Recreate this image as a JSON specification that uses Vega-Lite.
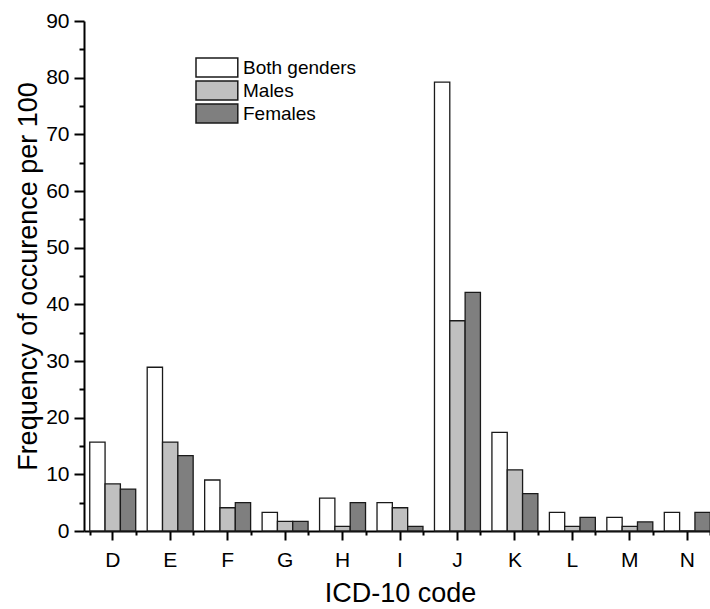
{
  "$schema": "https://vega.github.io/schema/vega-lite/v6.json",
  "autosize": "none",
  "width": 626,
  "height": 510,
  "padding": {"left": 84, "top": 21, "right": 0, "bottom": 78},
  "background": "white",
  "data": {
    "values": [
      {"code": "D", "group": "Both genders", "value": 15.7},
      {"code": "D", "group": "Males", "value": 8.3},
      {"code": "D", "group": "Females", "value": 7.4},
      {"code": "E", "group": "Both genders", "value": 28.9},
      {"code": "E", "group": "Males", "value": 15.7},
      {"code": "E", "group": "Females", "value": 13.3},
      {"code": "F", "group": "Both genders", "value": 9.0},
      {"code": "F", "group": "Males", "value": 4.1},
      {"code": "F", "group": "Females", "value": 5.0},
      {"code": "G", "group": "Both genders", "value": 3.3},
      {"code": "G", "group": "Males", "value": 1.7},
      {"code": "G", "group": "Females", "value": 1.7},
      {"code": "H", "group": "Both genders", "value": 5.8},
      {"code": "H", "group": "Males", "value": 0.8},
      {"code": "H", "group": "Females", "value": 5.0},
      {"code": "I", "group": "Both genders", "value": 5.0},
      {"code": "I", "group": "Males", "value": 4.1},
      {"code": "I", "group": "Females", "value": 0.8},
      {"code": "J", "group": "Both genders", "value": 79.2},
      {"code": "J", "group": "Males", "value": 37.1},
      {"code": "J", "group": "Females", "value": 42.1},
      {"code": "K", "group": "Both genders", "value": 17.4},
      {"code": "K", "group": "Males", "value": 10.8},
      {"code": "K", "group": "Females", "value": 6.6},
      {"code": "L", "group": "Both genders", "value": 3.3},
      {"code": "L", "group": "Males", "value": 0.8},
      {"code": "L", "group": "Females", "value": 2.4},
      {"code": "M", "group": "Both genders", "value": 2.4},
      {"code": "M", "group": "Males", "value": 0.8},
      {"code": "M", "group": "Females", "value": 1.6},
      {"code": "N", "group": "Both genders", "value": 3.3},
      {"code": "N", "group": "Males", "value": 0},
      {"code": "N", "group": "Females", "value": 3.3}
    ]
  },
  "layer": [
    {
      "mark": {"type": "bar", "stroke": "#1a1a1a", "strokeWidth": 1.3},
      "encoding": {
        "x": {
          "field": "code", "type": "nominal",
          "scale": {"paddingInner": 0.2, "paddingOuter": 0.1, "range": [0, 632]},
          "axis": {
            "title": "ICD-10 code", "labelAngle": 0, "tickSize": 9,
            "labelPadding": 9, "titlePadding": 10, "orient": "bottom"
          }
        },
        "xOffset": {
          "field": "group", "type": "nominal",
          "sort": ["Both genders", "Males", "Females"],
          "scale": {"paddingInner": 0, "paddingOuter": 0}
        },
        "y": {
          "field": "value", "type": "quantitative",
          "scale": {"domain": [0, 90], "nice": false},
          "axis": {
            "title": "Frequency of occurence per 100",
            "values": [0, 10, 20, 30, 40, 50, 60, 70, 80, 90],
            "tickSize": 10, "labelPadding": 5, "titlePadding": 3, "orient": "left"
          }
        },
        "fill": {
          "field": "group", "type": "nominal",
          "sort": ["Both genders", "Males", "Females"],
          "scale": {"domain": ["Both genders", "Males", "Females"], "range": ["#ffffff", "#c0c0c0", "#7f7f7f"]},
          "legend": {
            "title": null,
            "orient": "none",
            "legendX": 111,
            "legendY": 36,
            "symbolType": "M-1,-1H3.4V1H-1Z",
            "symbolSize": 361,
            "symbolStrokeColor": "#1a1a1a",
            "symbolStrokeWidth": 1.5,
            "symbolOpacity": 1,
            "labelOffset": 27,
            "labelFontSize": 19,
            "labelFont": "Liberation Sans",
            "labelColor": "#000000",
            "rowPadding": -3,
            "padding": 0
          }
        }
      }
    },
    {
      "mark": {"type": "point", "opacity": 0},
      "encoding": {
        "x": {
          "field": "code", "type": "nominal",
          "axis": {
            "title": null, "labels": false, "domain": false,
            "tickBand": "extent", "tickSize": 4, "orient": "bottom"
          }
        },
        "y": {
          "field": "value", "type": "quantitative",
          "axis": {
            "title": null, "labels": false, "domain": false,
            "values": [5, 15, 25, 35, 45, 55, 65, 75, 85],
            "tickSize": 5, "orient": "left"
          }
        }
      }
    }
  ],
  "resolve": {"axis": {"x": "independent", "y": "independent"}},
  "config": {
    "view": {"stroke": null},
    "axis": {
      "grid": false,
      "domainColor": "#000000",
      "domainWidth": 2,
      "tickColor": "#000000",
      "tickWidth": 2,
      "labelColor": "#000000",
      "labelFont": "Liberation Sans",
      "labelFontSize": 21,
      "titleFont": "Liberation Sans",
      "titleFontSize": 27,
      "titleFontWeight": "normal",
      "titleColor": "#000000"
    }
  }
}
